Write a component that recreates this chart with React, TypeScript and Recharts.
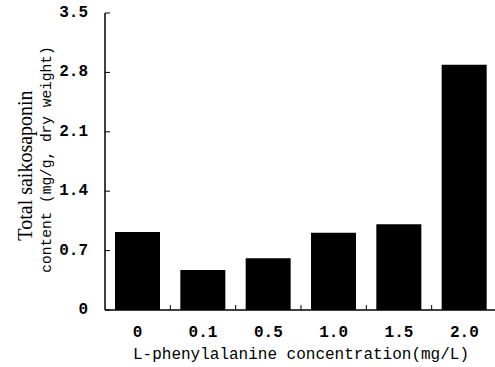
import React from "react";
import { BarChart, Bar, XAxis, YAxis } from "recharts";

// L-phenylalanine concentration (mg/L)
const concentrations = ["0", "0.1", "0.5", "1.0", "1.5", "2.0"];
// total saikosaponin content (mg/g dry weight)
const saponinContent = [0.92, 0.47, 0.61, 0.91, 1.01, 2.89];
const yTicks = [0, 0.7, 1.4, 2.1, 2.8, 3.5];

const data = concentrations.map((c, i) => ({ conc: c, value: saponinContent[i] }));

const W = 495;
const H = 367;
const margin = { top: 13, right: -2, bottom: 0, left: 45 };
const Y_AXIS_W = 60;
const X_AXIS_H = 57;
const plotW = W - margin.left - margin.right - Y_AXIS_W;
const band = plotW / concentrations.length;

const mono = "'Liberation Mono', 'DejaVu Sans Mono', monospace";
const serif = "'Liberation Serif', 'DejaVu Serif', serif";

const Y_TICK_GAP = 17;

function YTick(props: any) {
  const { x, y, payload } = props;
  const v = payload.value as number;
  const axisX = x + Y_TICK_GAP;
  return (
    <g>
      <line x1={axisX} x2={axisX + 5} y1={y} y2={y} stroke="#000" strokeWidth={1} />
      <text
        x={x}
        y={y}
        textAnchor="end"
        dominantBaseline="central"
        fontFamily={mono}
        fontWeight="bold"
        fontSize={16}
        fill="#000"
      >
        {v === 0 ? "0" : v.toFixed(1)}
      </text>
    </g>
  );
}

const X_TICK_GAP = 17;

function XTick(props: any) {
  const { x, y, payload, index } = props;
  const axisY = y - X_TICK_GAP;
  return (
    <g>
      {index > 0 && (
        <line
          x1={x - band / 2}
          x2={x - band / 2}
          y1={axisY}
          y2={axisY - 5}
          stroke="#000"
          strokeWidth={1}
        />
      )}
      <text
        x={x}
        y={y}
        textAnchor="middle"
        dominantBaseline="hanging"
        fontFamily={mono}
        fontWeight="bold"
        fontSize={16}
        fill="#000"
      >
        {payload.value}
      </text>
    </g>
  );
}

function YTitle(props: any) {
  const { viewBox } = props;
  const cy = viewBox.y + viewBox.height / 2;
  return (
    <g>
      <text
        x={25}
        y={cy + 4}
        transform={`rotate(-90, 25, ${cy + 4})`}
        textAnchor="middle"
        dominantBaseline="central"
        fontFamily={serif}
        fontSize={20}
        fill="#000"
      >
        Total saikosaponin
      </text>
      <text
        x={47}
        y={cy - 2}
        transform={`rotate(-90, 47, ${cy - 2})`}
        textAnchor="middle"
        dominantBaseline="central"
        fontFamily={mono}
        fontSize={14.5}
        fill="#000"
      >
        content (mg/g, dry weight)
      </text>
    </g>
  );
}

export default function App() {
  return (
    <div style={{ position: "absolute", left: 0, top: 0, width: W, height: H, background: "#fff" }}>
      <BarChart width={W} height={H} data={data} margin={margin}>
        <XAxis
          dataKey="conc"
          height={X_AXIS_H}
          axisLine={{ stroke: "#000", strokeWidth: 1.5 }}
          tickLine={false}
          tickSize={0}
          tickMargin={X_TICK_GAP}
          tick={<XTick />}
          interval={0}
          label={{
            value: "L-phenylalanine concentration(mg/L)",
            position: "insideBottom",
            offset: 8,
            style: { fontFamily: mono, fontSize: 16, fill: "#000" },
          }}
        />
        <YAxis
          width={Y_AXIS_W}
          domain={[0, 3.5]}
          ticks={yTicks}
          interval={0}
          axisLine={{ stroke: "#000", strokeWidth: 1.5 }}
          tickLine={false}
          tickSize={0}
          tickMargin={Y_TICK_GAP}
          tick={<YTick />}
          label={{ content: <YTitle /> }}
        />
        <Bar dataKey="value" fill="#000" barSize={45} isAnimationActive={false} />
      </BarChart>
    </div>
  );
}
